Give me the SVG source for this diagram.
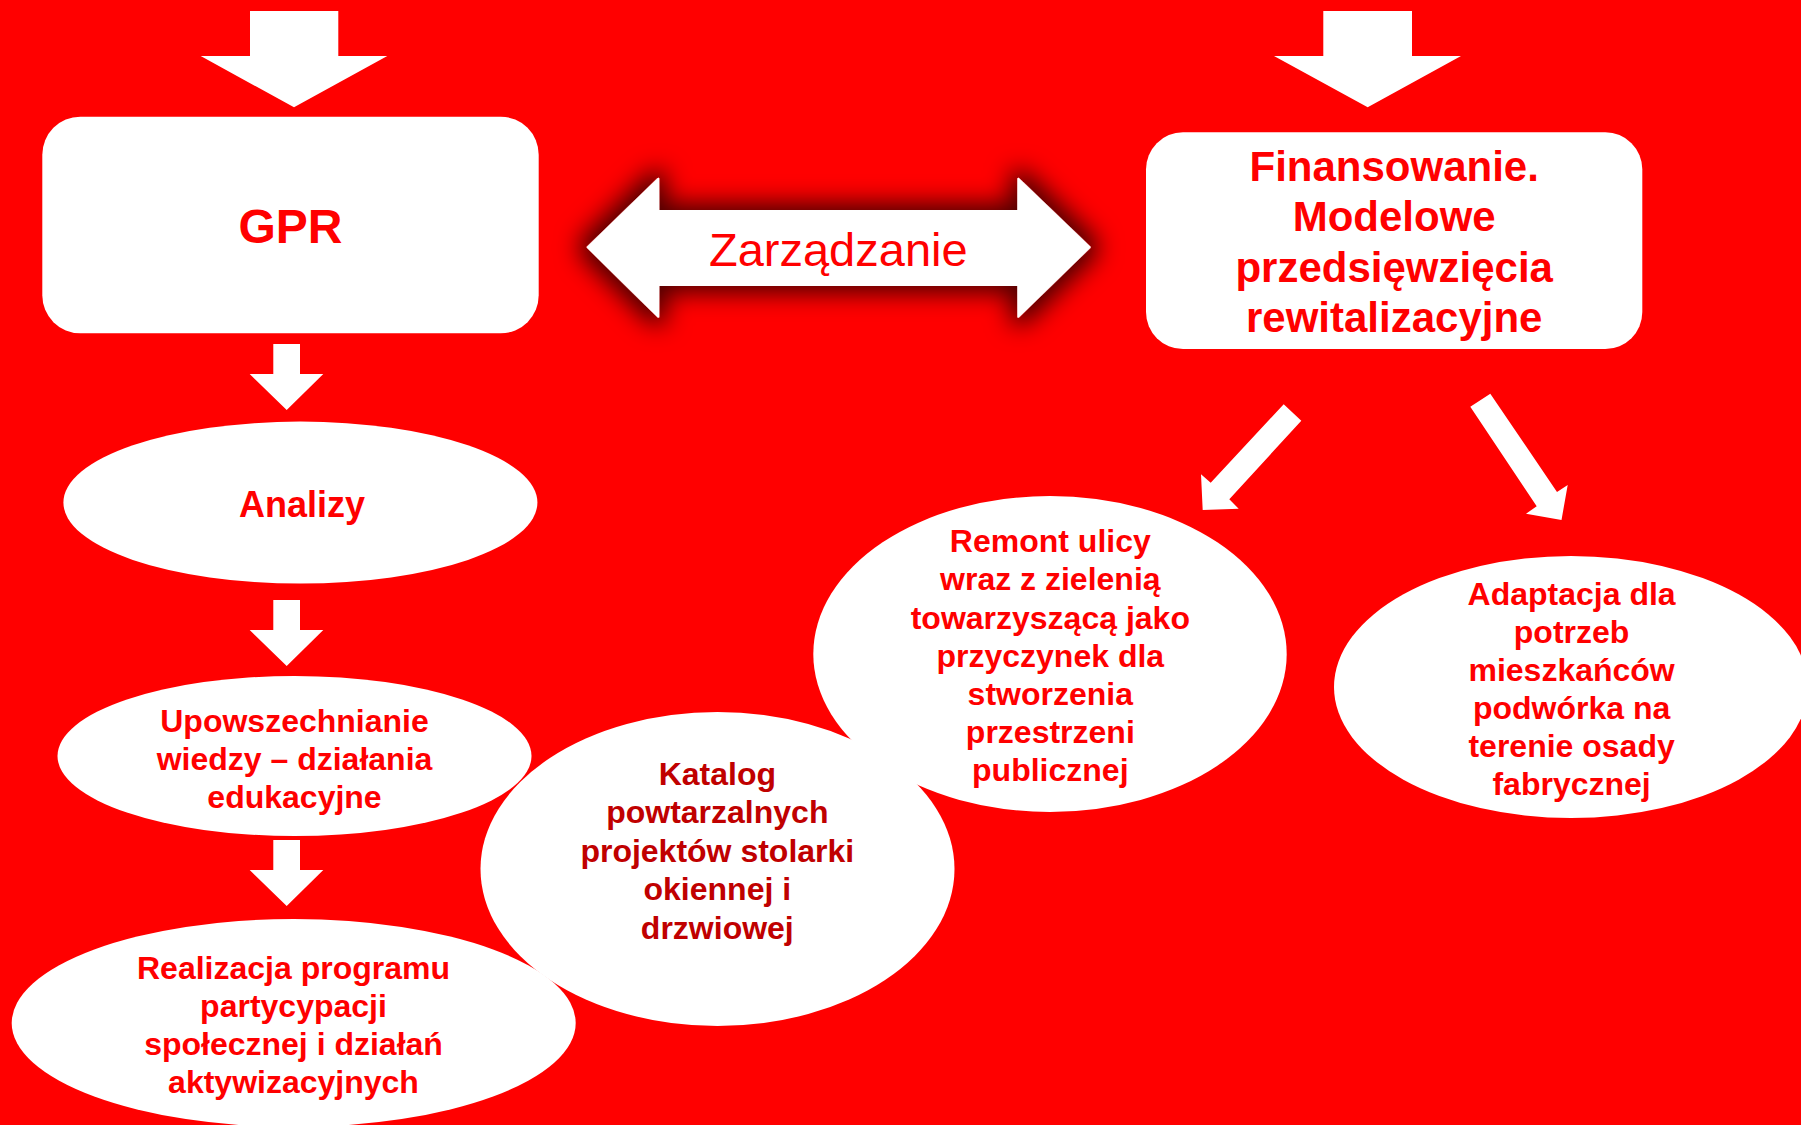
<svg xmlns="http://www.w3.org/2000/svg" width="1801" height="1125" viewBox="0 0 1801 1125">
  <style>
    .node { fill: #FFFFFF; }
    .arrow { fill: #FFFFFF; }
    .t { font-family: "Liberation Sans", Arial, sans-serif; font-weight: bold; fill: #FF0000; text-anchor: middle; }
    .e { font-size: 32px; }
    .dark { fill: #C00000; }
    .reg { font-family: "Liberation Sans", Arial, sans-serif; font-weight: normal; fill: #FF0000; text-anchor: middle; font-size: 47px; }
  </style>
  <defs>
    <filter id="glow" x="-20%" y="-60%" width="140%" height="220%">
      <feMorphology in="SourceAlpha" operator="dilate" radius="7" result="d"/>
      <feGaussianBlur in="d" stdDeviation="12" result="b"/>
      <feFlood flood-color="#000000" flood-opacity="0.7"/>
      <feComposite in2="b" operator="in" result="s"/>
      <feMerge>
        <feMergeNode in="s"/>
        <feMergeNode in="SourceGraphic"/>
      </feMerge>
    </filter>
  </defs>
  <rect x="0" y="0" width="1801" height="1125" fill="#FF0000"/>

  <g id="connectors">
    <polygon class="arrow" points="250,11 338.3,11 338.3,56 387.3,56 294,107.3 200.7,56 250,56"/>
    <polygon class="arrow" points="1323.3,11 1412,11 1412,56 1461,56 1367.7,107.3 1274,56 1323.3,56"/>
    <polygon class="arrow" points="273.3,344 300,344 300,374 323.3,374 286.7,410 249.7,374 273.3,374"/>
    <polygon class="arrow" points="273.3,600 300,600 300,630 323.3,630 286.7,666 249.7,630 273.3,630"/>
    <polygon class="arrow" points="273.3,840 300,840 300,870 323.3,870 286.7,906 249.7,870 273.3,870"/>
    <polygon class="arrow" points="1283.7,404.3 1301.3,420.7 1229.3,499.3 1238.7,508.7 1202.7,510 1201,474.3 1210.7,482.7"/>
    <polygon class="arrow" points="1470.3,406.7 1490.3,393.7 1557,492 1567.7,485 1561.5,520 1526,513.7 1536.7,506.3"/>
    <g id="zarzadzanie" filter="url(#glow)">
      <polygon class="arrow" stroke="#FFFFFF" stroke-width="2" stroke-linejoin="round" points="587.7,247.3 658.3,178.7 658.3,211 1018.3,211 1018.3,178.7 1089.7,247.3 1018.3,316.7 1018.3,285 658.3,285 658.3,316.7"/>
    </g>
    <text class="reg" x="838.3" y="266">Zarządzanie</text>
  </g>

  <g id="gpr">
    <rect class="node" x="42.3" y="116.7" width="496.4" height="216.6" rx="38" ry="38"/>
    <text class="t" x="290.5" y="243" font-size="48">GPR</text>
  </g>

  <g id="finansowanie">
    <rect class="node" x="1146" y="132.3" width="496.3" height="216.7" rx="37" ry="37"/>
    <text class="t" font-size="42"><tspan x="1394.2" y="180.5">Finansowanie.</tspan><tspan x="1394.2" y="231">Modelowe</tspan><tspan x="1394.2" y="281.5">przedsięwzięcia</tspan><tspan x="1394.2" y="332">rewitalizacyjne</tspan></text>
  </g>

  <g id="analizy">
    <ellipse class="node" cx="300.4" cy="502.6" rx="237" ry="81"/>
    <text class="t" x="302" y="516.5" font-size="36">Analizy</text>
  </g>

  <g id="upowszechnianie">
    <ellipse class="node" cx="294.5" cy="756" rx="237" ry="80"/>
    <text class="t e"><tspan x="294.5" y="732">Upowszechnianie</tspan><tspan x="294.5" y="770">wiedzy – działania</tspan><tspan x="294.5" y="808">edukacyjne</tspan></text>
  </g>

  <g id="realizacja">
    <ellipse class="node" cx="293.7" cy="1023" rx="282" ry="104"/>
    <text class="t e"><tspan x="293.5" y="979">Realizacja programu</tspan><tspan x="293.5" y="1017">partycypacji</tspan><tspan x="293.5" y="1055">społecznej i działań</tspan><tspan x="293.5" y="1093">aktywizacyjnych</tspan></text>
  </g>

  <g id="katalog">
    <ellipse class="node" cx="717.5" cy="869" rx="237" ry="157"/>
    <text class="t e dark"><tspan x="717.3" y="784.5">Katalog</tspan><tspan x="717.3" y="823">powtarzalnych</tspan><tspan x="717.3" y="861.5">projektów stolarki</tspan><tspan x="717.3" y="900">okiennej i</tspan><tspan x="717.3" y="938.5">drzwiowej</tspan></text>
  </g>

  <g id="remont">
    <ellipse class="node" cx="1050" cy="654" rx="236.7" ry="158"/>
    <text class="t e"><tspan x="1050.3" y="552">Remont ulicy</tspan><tspan x="1050.3" y="590">wraz z zielenią</tspan><tspan x="1050.3" y="629">towarzyszącą jako</tspan><tspan x="1050.3" y="667">przyczynek dla</tspan><tspan x="1050.3" y="705">stworzenia</tspan><tspan x="1050.3" y="743">przestrzeni</tspan><tspan x="1050.3" y="781">publicznej</tspan></text>
  </g>

  <g id="adaptacja">
    <ellipse class="node" cx="1571" cy="687" rx="237" ry="131"/>
    <text class="t e"><tspan x="1571.6" y="604.5">Adaptacja dla</tspan><tspan x="1571.6" y="642.5">potrzeb</tspan><tspan x="1571.6" y="680.5">mieszkańców</tspan><tspan x="1571.6" y="718.5">podwórka na</tspan><tspan x="1571.6" y="756.5">terenie osady</tspan><tspan x="1571.6" y="794.5">fabrycznej</tspan></text>
  </g>
</svg>
